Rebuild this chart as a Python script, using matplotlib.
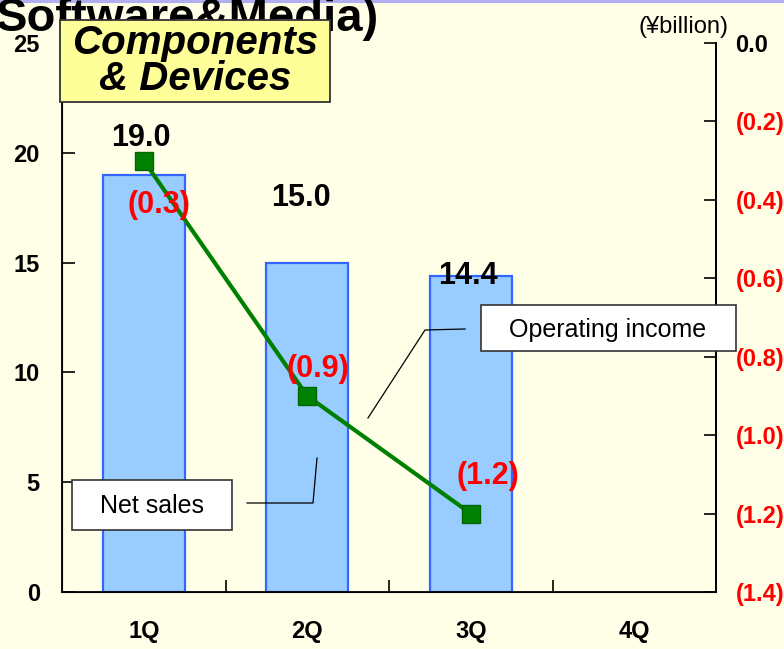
import numpy as np
import matplotlib
matplotlib.use("Agg")
import matplotlib.pyplot as plt
from matplotlib.patches import Rectangle

plt.rcParams['font.family'] = ['Liberation Sans', 'DejaVu Sans']

# data
quarters = ['1Q', '2Q', '3Q', '4Q']
net_sales = [19.0, 15.0, 14.4]
op_income = [-0.3, -0.9, -1.2]
sales_labels = ['19.0', '15.0', '14.4']
income_labels = ['(0.3)', '(0.9)', '(1.2)']
left_ticks = [0, 5, 10, 15, 20, 25]
right_ticks = [0.0, -0.2, -0.4, -0.6, -0.8, -1.0, -1.2, -1.4]
right_labels = ['0.0', '(0.2)', '(0.4)', '(0.6)', '(0.8)', '(1.0)', '(1.2)', '(1.4)']

W, H = 784, 649
bg = '#FFFFE8'
fig = plt.figure(figsize=(W / 100, H / 100), dpi=100, facecolor=bg)
ax = fig.add_axes([62 / W, 1 - 592 / H, 654 / W, 549 / H])
ax.set_facecolor(bg)


def fx(px):
    return px / W


def fy(py):
    return 1 - py / H


x = np.arange(len(net_sales))
ax.bar(x, net_sales, width=0.5, color='#99CCFF', edgecolor='#3366FF', linewidth=1.6, zorder=2)
ax.set_xlim(-0.5, 3.5)
ax.set_ylim(0, 25)
ax.set_yticks(left_ticks)
ax.set_yticklabels([str(t) for t in left_ticks], fontsize=17, fontweight='bold')
ax.set_xticks(range(4))
ax.set_xticklabels(quarters, fontsize=17, fontweight='bold')
ax.tick_params(axis='x', length=0, pad=20)
ax.set_xticks([0.5, 1.5, 2.5], minor=True)
ax.tick_params(axis='x', which='minor', direction='in', length=9, width=1.2)
ax.tick_params(axis='y', direction='in', length=9, width=1.2, pad=16)
ax.spines['top'].set_visible(False)
for s in ['left', 'bottom', 'right']:
    ax.spines[s].set_linewidth(1.3)

# net sales labels (pixel offsets from bar top)
sales_off = [(-3, 37), (-6, 65), (-3, 0)]
for xi, v, lab, off in zip(x, net_sales, sales_labels, sales_off):
    ax.annotate(lab, (xi, v), xytext=off, textcoords='offset pixels', ha='center',
                va='center', fontsize=22, fontweight='bold', zorder=6)

ax2 = ax.twinx()
ax2.set_ylim(-1.4, 0.0)
ax2.set_yticks(right_ticks)
ax2.set_yticklabels(right_labels, fontsize=17, fontweight='bold')
for t, lab in zip(ax2.get_yticklabels(), right_labels):
    t.set_color('black' if lab == '0.0' else 'red')
ax2.tick_params(axis='y', direction='in', length=9, width=1.2, pad=14)
ax2.spines['top'].set_visible(False)
ax2.spines['right'].set_linewidth(1.3)
ax2.plot(x, op_income, color='#008000', linewidth=3, marker='s', markersize=13,
         markerfacecolor='#008000', markeredgecolor='#006600', zorder=5)

income_off = [(15, -44), (11, 27), (17, 38)]
for xi, v, lab, off in zip(x, op_income, income_labels, income_off):
    ax2.annotate(lab, (xi, v), xytext=off, textcoords='offset pixels', ha='center',
                 va='center', fontsize=22, fontweight='bold', color='red', zorder=6)

# callouts
fig.add_artist(Rectangle((fx(72), fy(530)), fx(160), 50 / H, transform=fig.transFigure,
                         fc='white', ec='#333333', lw=1.2, zorder=8))
fig.text(fx(152), fy(506), 'Net sales', ha='center', va='center', fontsize=18, zorder=9)
fig.add_artist(plt.Line2D([fx(247), fx(313), fx(317)], [fy(503), fy(503), fy(458)],
                          color='black', lw=0.9))
fig.add_artist(Rectangle((fx(481), fy(351)), fx(255), 46 / H, transform=fig.transFigure,
                         fc='white', ec='#333333', lw=1.2, zorder=8))
fig.text(fx(608), fy(330), 'Operating income', ha='center', va='center', fontsize=18, zorder=9)
fig.add_artist(plt.Line2D([fx(368), fx(425), fx(465)], [fy(418), fy(330), fy(329)],
                          color='black', lw=0.9))

# header
fig.add_artist(plt.Line2D([0, 1], [0.998, 0.998], color='#B0B0F0', lw=3))
fig.text(-0.006, fy(31), 'Software&Media)', fontsize=34, fontweight='bold', va='baseline')
fig.add_artist(Rectangle((fx(60), fy(102)), fx(270), 82 / H, transform=fig.transFigure,
                         fc='#FFFF99', ec='#333333', lw=1.3, zorder=8))
fig.text(fx(195), fy(61), 'Components\n& Devices', ha='center', va='center', fontsize=29,
         fontweight='bold', style='italic', linespacing=0.95, zorder=9)
fig.text(fx(684), fy(27), '(¥billion)', ha='center', va='center', fontsize=17)

fig.savefig('out.png', dpi=100, facecolor=bg)
